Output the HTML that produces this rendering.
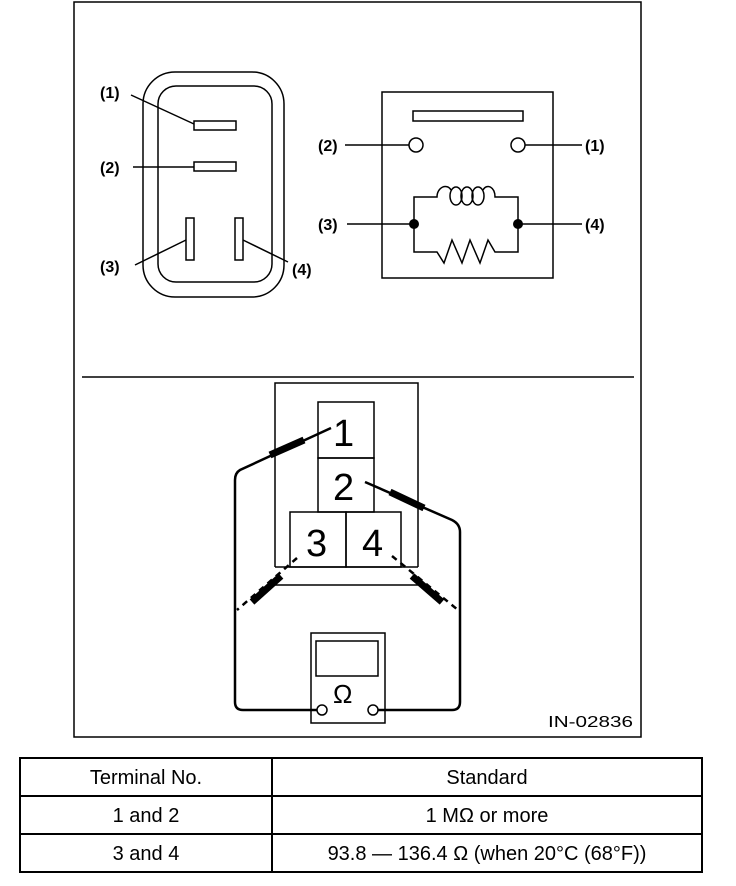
<!DOCTYPE html>
<html><head><meta charset="utf-8"><style>
html,body{margin:0;padding:0;background:#fff;}
svg{display:block;}
text{font-family:"Liberation Sans",sans-serif;fill:#000;}
</style></head><body>
<svg width="736" height="886" viewBox="0 0 736 886" xmlns="http://www.w3.org/2000/svg">
<g fill="none" stroke="#000" stroke-width="1.5">
<rect x="74" y="2" width="567" height="735"/>
<line x1="82" y1="377" x2="634" y2="377"/>
<!-- connector -->
<rect x="143" y="72" width="141" height="225" rx="32"/>
<rect x="158" y="86" width="114" height="196" rx="18"/>
<rect x="194" y="121" width="42" height="9"/>
<rect x="194" y="162" width="42" height="9"/>
<rect x="186" y="218" width="8" height="42"/>
<rect x="235" y="218" width="8" height="42"/>
<line x1="131" y1="95" x2="194" y2="124"/>
<line x1="133" y1="167" x2="194" y2="167"/>
<line x1="135" y1="265" x2="186" y2="240"/>
<line x1="288" y1="262" x2="243" y2="240"/>
<!-- relay -->
<rect x="382" y="92" width="171" height="186"/>
<rect x="413" y="111" width="110" height="10"/>
<circle cx="416" cy="145" r="7"/>
<circle cx="518" cy="145" r="7"/>
<line x1="345" y1="145" x2="409" y2="145"/>
<line x1="525" y1="145" x2="582" y2="145"/>
<line x1="347" y1="224" x2="414" y2="224"/>
<line x1="518" y1="224" x2="582" y2="224"/>
<path d="M414 224 V197 H437 C437 187 447 183 451 190"/>
<path d="M483 190 C487 183 495 187 495 197 H518 V252 H495 L488 240 L480 263 L470 240 L462 263 L452 240 L444 263 L437 252 H414 V224"/>
<ellipse cx="456" cy="196" rx="6" ry="9"/>
<ellipse cx="467" cy="196" rx="6" ry="9"/>
<ellipse cx="478" cy="196" rx="6" ry="9"/>
<!-- test box -->
<path d="M275 567 V383 H418 V567"/>
<line x1="275" y1="585" x2="418" y2="585"/>
<line x1="275" y1="567" x2="418" y2="567"/>
<rect x="318" y="402" width="56" height="56"/>
<rect x="318" y="458" width="56" height="54"/>
<rect x="290" y="512" width="56" height="55"/>
<rect x="346" y="512" width="55" height="55"/>
<!-- meter -->
<rect x="311" y="633" width="74" height="90"/>
<rect x="316" y="641" width="62" height="35"/>
<circle cx="322" cy="710" r="5"/>
<circle cx="373" cy="710" r="5"/>
</g>
<g fill="none" stroke="#000" stroke-width="2.5">
<path d="M331 428 L240 470 Q235 473 235 480 V702 Q235 710 243 710 H317"/>
<path d="M365 482 L452 520 Q460 524 460 532 V702 Q460 710 452 710 H378"/>
<path d="M297 558 L237 610" stroke-dasharray="6 5"/>
<path d="M392 556 L458 610" stroke-dasharray="6 5"/>
</g>
<g stroke="#000" stroke-width="7" stroke-linecap="butt">
<line x1="270" y1="455" x2="304" y2="440"/>
<line x1="390" y1="492" x2="424" y2="508"/>
<line x1="252" y1="602" x2="281" y2="576"/>
<line x1="412" y1="576" x2="442" y2="602"/>
</g>
<g fill="#000"><circle cx="414" cy="224" r="5"/><circle cx="518" cy="224" r="5"/></g>
<g font-size="16" font-weight="bold">
<text x="100" y="98">(1)</text>
<text x="100" y="173">(2)</text>
<text x="100" y="272">(3)</text>
<text x="292" y="275">(4)</text>
<text x="318" y="151">(2)</text>
<text x="585" y="151">(1)</text>
<text x="318" y="230">(3)</text>
<text x="585" y="230">(4)</text>
</g>
<text x="548" y="727" font-size="16" textLength="85" lengthAdjust="spacingAndGlyphs">IN-02836</text>
<g font-size="38">
<text x="333" y="446">1</text>
<text x="333" y="500">2</text>
<text x="306" y="556">3</text>
<text x="362" y="556">4</text>
</g>
<text x="333" y="703" font-size="26">Ω</text>
<!-- table -->
<g fill="none" stroke="#000" stroke-width="2">
<rect x="20" y="758" width="682" height="114"/>
<line x1="20" y1="796" x2="702" y2="796"/>
<line x1="20" y1="834" x2="702" y2="834"/>
<line x1="272" y1="758" x2="272" y2="872"/>
</g>
<g font-size="20" text-anchor="middle">
<text x="146" y="784">Terminal No.</text>
<text x="487" y="784">Standard</text>
<text x="146" y="822">1 and 2</text>
<text x="487" y="822">1 MΩ or more</text>
<text x="146" y="860">3 and 4</text>
<text x="487" y="860">93.8 — 136.4 Ω (when 20°C (68°F))</text>
</g>
</svg>
</body></html>
